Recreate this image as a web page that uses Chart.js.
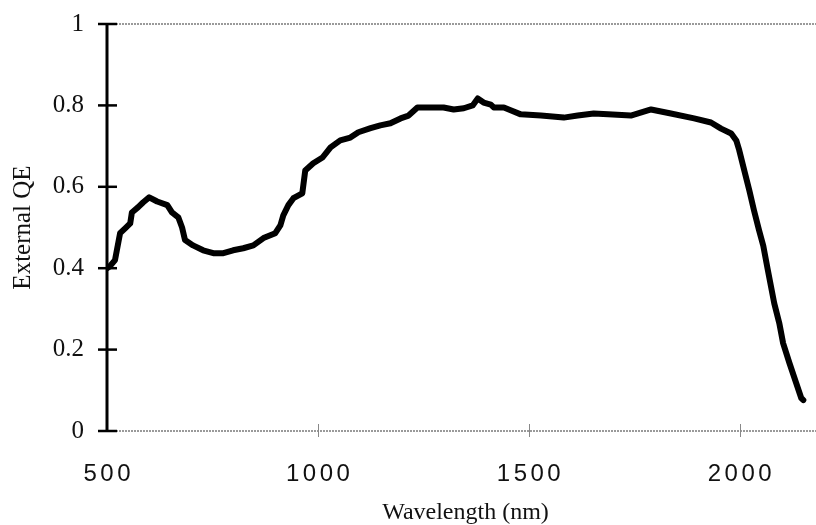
<!DOCTYPE html>
<html>
<head>
<meta charset="utf-8">
<title>External QE</title>
<script src="https://cdn.jsdelivr.net/npm/chart.js@4.4.1/dist/chart.umd.min.js"></script>
<style>
  html, body { margin: 0; padding: 0; background: #fff; overflow: hidden; }
</style>
</head>
<body>
<canvas id="qeChart" width="824" height="525"></canvas>
<script>
// values
const wavelength = [
  500, 507, 519, 531, 543, 555, 559, 574, 586, 600,
  619, 643, 654, 669, 678, 685, 704, 728, 752, 776,
  799, 823, 847, 871, 899, 911, 918, 930, 942, 963,
  970, 989, 1011, 1030, 1053, 1077, 1096, 1125, 1148, 1172,
  1196, 1215, 1236, 1260, 1298, 1322, 1346, 1367, 1379, 1393,
  1410, 1417, 1441, 1457, 1481, 1529, 1583, 1616, 1654, 1688,
  1742, 1790, 1837, 1892, 1932, 1956, 1980, 1992, 1999, 2011,
  2023, 2034, 2046, 2056, 2066, 2082, 2094, 2103, 2118, 2134,
  2146, 2151
];
const externalQE = [
  0.400, 0.405, 0.420, 0.486, 0.498, 0.510, 0.537, 0.550, 0.562, 0.574,
  0.564, 0.555, 0.537, 0.525, 0.500, 0.469, 0.456, 0.444, 0.437, 0.437,
  0.444, 0.449, 0.456, 0.474, 0.486, 0.505, 0.530, 0.555, 0.572, 0.584,
  0.640, 0.658, 0.672, 0.697, 0.714, 0.721, 0.734, 0.744, 0.751, 0.756,
  0.768, 0.775, 0.795, 0.795, 0.795, 0.790, 0.793, 0.800, 0.817, 0.807,
  0.802, 0.795, 0.795, 0.788, 0.778, 0.775, 0.770, 0.775, 0.780, 0.778,
  0.775, 0.790, 0.780, 0.768, 0.758, 0.743, 0.731, 0.714, 0.690, 0.640,
  0.591, 0.542, 0.493, 0.455, 0.400, 0.314, 0.265, 0.216, 0.167, 0.118,
  0.081, 0.076
];
const xTicks = [500, 1000, 1500, 2000];
const yTicks = [0, 0.2, 0.4, 0.6, 0.8, 1];

// hand-drawn looking frame: thick black left axis with crossing ticks,
// thin grey rules at top and bottom
const axisLines = {
  id: 'axisLines',
  beforeDatasetsDraw(chart) {
    const { ctx, chartArea: a, scales: { x, y } } = chart;
    const yTop = y.getPixelForValue(1);
    const yBot = y.getPixelForValue(0);
    ctx.save();

    ctx.strokeStyle = '#7a7a7a';
    ctx.lineWidth = 1.5;
    ctx.setLineDash([2, 1]);
    ctx.beginPath();
    ctx.moveTo(a.left, yTop);
    ctx.lineTo(a.right, yTop);
    ctx.moveTo(a.left, yBot);
    ctx.lineTo(a.right, yBot);
    ctx.stroke();
    ctx.setLineDash([]);

    ctx.lineWidth = 1;
    ctx.strokeStyle = '#888';
    xTicks.slice(1).forEach(v => {
      const px = Math.round(x.getPixelForValue(v)) + 0.5;
      ctx.beginPath();
      ctx.moveTo(px, yBot - 7);
      ctx.lineTo(px, yBot + 6);
      ctx.stroke();
    });

    ctx.strokeStyle = '#000';
    ctx.lineWidth = 3;
    ctx.beginPath();
    ctx.moveTo(a.left, yTop - 1);
    ctx.lineTo(a.left, yBot + 1);
    ctx.stroke();

    ctx.lineWidth = 2.5;
    yTicks.forEach(v => {
      const py = y.getPixelForValue(v);
      ctx.beginPath();
      ctx.moveTo(a.left - 9, py);
      ctx.lineTo(a.left + 10, py);
      ctx.stroke();
    });
    ctx.restore();
  }
};

// the x tick numbers are spaced out in the original
const spacedXLabels = {
  id: 'spacedXLabels',
  beforeDraw(chart) {
    const sx = chart.scales.x;
    if (sx._spaced) return;
    const draw = sx.drawLabels.bind(sx);
    sx.drawLabels = function (area) {
      chart.ctx.save();
      chart.ctx.letterSpacing = '3.5px';
      chart.ctx.translate(1.75, 0);
      draw(area);
      chart.ctx.restore();
    };
    sx._spaced = true;
  }
};

const points = wavelength.map((w, i) => ({ x: w, y: externalQE[i] }));

new Chart(document.getElementById('qeChart'), {
  type: 'line',
  data: {
    datasets: [{
      data: points,
      borderColor: '#000',
      borderWidth: 6,
      pointRadius: 0,
      tension: 0,
      borderJoinStyle: 'round',
      borderCapStyle: 'round',
      fill: false
    }]
  },
  options: {
    responsive: false,
    animation: false,
    layout: { padding: { top: 24, right: 0, bottom: 0, left: 0 } },
    plugins: {
      legend: { display: false },
      tooltip: { enabled: false }
    },
    scales: {
      x: {
        type: 'linear',
        min: 500,
        max: 2200,
        afterFit(scale) {
          scale.height = 94;
          scale.paddingLeft = 0;
          scale.paddingRight = 0;
        },
        afterBuildTicks(scale) { scale.ticks = xTicks.map(v => ({ value: v })); },
        grid: { display: false, drawTicks: false },
        border: { display: false },
        ticks: {
          padding: 29,
          color: '#111',
          maxRotation: 0,
          font: { family: 'Liberation Sans', size: 24 },
          callback: v => String(v)
        },
        title: {
          display: true,
          text: 'Wavelength (nm)',
          color: '#111',
          font: { family: 'Liberation Serif', size: 24, lineHeight: 1 },
          padding: { top: 0, bottom: 0 }
        }
      },
      y: {
        min: 0,
        max: 1,
        afterFit(scale) {
          scale.width = 107;
          scale.paddingTop = 0;
          scale.paddingBottom = 0;
        },
        afterBuildTicks(scale) { scale.ticks = yTicks.map(v => ({ value: v })); },
        grid: { display: false, drawTicks: false },
        border: { display: false },
        ticks: {
          padding: 23,
          color: '#111',
          font: { family: 'Liberation Serif', size: 25 },
          callback: v => String(v)
        },
        title: {
          display: true,
          text: 'External QE',
          color: '#111',
          font: { family: 'Liberation Serif', size: 25, lineHeight: 1 },
          padding: { top: 11, bottom: 0 }
        }
      }
    }
  },
  plugins: [axisLines, spacedXLabels]
});
</script>
</body>
</html>
